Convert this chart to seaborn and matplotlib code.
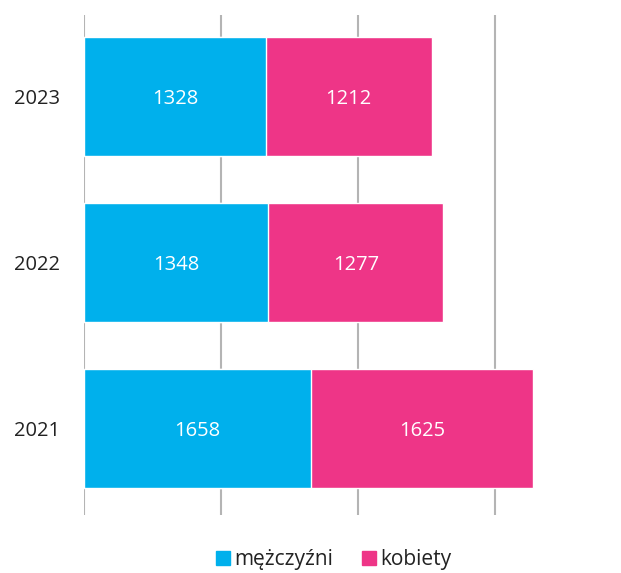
import pandas as pd
import matplotlib.pyplot as plt
import seaborn as sns
from matplotlib.lines import Line2D

years = ['2023', '2022', '2021']
men = [1328, 1348, 1658]
women = [1212, 1277, 1625]

blue = '#00B0EC'
pink = '#EE3587'

df = pd.DataFrame({'rok': years, 'mezczyzni': men, 'kobiety': women})
df['razem'] = df['mezczyzni'] + df['kobiety']

sns.set_theme(style='white')
plt.rcParams['font.family'] = ['Open Sans', 'DejaVu Sans']

fig = plt.figure(figsize=(6.21, 5.73), dpi=100)
ax = fig.add_axes([0.1353, 0.1012, 0.7713, 0.8726])

# stacked: total in pink first, then men on top
sns.barplot(data=df, y='rok', x='razem', order=years, color=pink, width=0.72,
            saturation=1, orient='h', ax=ax)
sns.barplot(data=df, y='rok', x='mezczyzni', order=years, color=blue, width=0.72,
            saturation=1, orient='h', ax=ax)

for i, (m, w) in enumerate(zip(men, women)):
    ax.text(m / 2, i, str(m), ha='center', va='center_baseline', color='white', fontsize=14.5)
    ax.text(m + w / 2, i, str(w), ha='center', va='center_baseline', color='white', fontsize=14.5)

ax.set_xlim(0, 3500)
ax.set_ylim(2.52, -0.49)
ax.set_xticks([0, 1000, 2000, 3000])
ax.set_xticklabels([])
ax.xaxis.grid(True, color='#B4B4B4', linewidth=1.5)
ax.set_axisbelow(True)
ax.tick_params(axis='y', length=0, labelsize=14.5, pad=17, labelcolor='#222222')
ax.tick_params(axis='x', length=0)
for lbl in ax.get_yticklabels():
    lbl.set_verticalalignment('center_baseline')
ax.set_xlabel('')
ax.set_ylabel('')
for s in ax.spines.values():
    s.set_visible(False)

handles = [Line2D([], [], marker='s', linestyle='', markersize=10, color=blue),
           Line2D([], [], marker='s', linestyle='', markersize=10, color=pink)]
fig.legend(handles, ['mężczyźni', 'kobiety'], loc='lower center', ncol=2,
           bbox_to_anchor=(0.535, -0.028), frameon=False, fontsize=15,
           handletextpad=0.05, columnspacing=1.2, handlelength=1.0,
           labelcolor='#222222')

fig.savefig('out.png', dpi=100)
